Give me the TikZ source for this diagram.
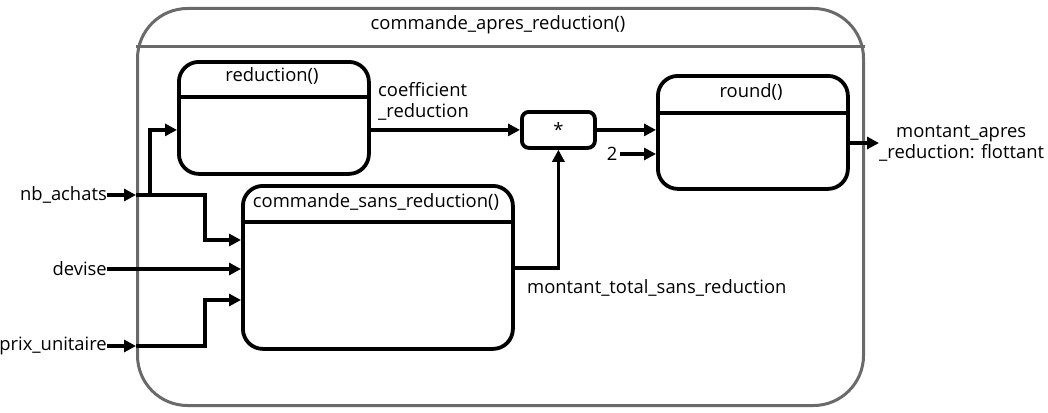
\documentclass[tikz,border=0pt]{standalone}
\usepackage{fontspec}
\setmainfont{Open Sans}
\usetikzlibrary{arrows.meta}
\definecolor{framegray}{HTML}{6A6A6A}
\begin{document}
\begin{tikzpicture}[x=1pt,y=-1pt,
 box/.style={draw=black, line width=3.8pt, rounded corners=20pt, anchor=north west, inner sep=0pt},
 outerbox/.style={draw=framegray, line width=3pt, rounded corners=50pt, anchor=north west, inner sep=0pt},
 arr/.style={line width=3.8pt, -{Triangle[length=12pt,width=12pt]}},
 ln/.style={line width=3.8pt},
 lbl/.style={font=\fontsize{18.4}{21}\selectfont, inner sep=0pt},
]
\useasboundingbox (0,0) rectangle (1048,412);
% outer
\node[outerbox, minimum width=726pt, minimum height=397pt] (outer) at (136,7) {};
\draw[line width=3pt, framegray] (outer.west |- 0,47) -- (outer.east |- 0,47);
\node[lbl] (outertitle) at (498,25) {commande\_apres\_reduction()};
% reduction
\node[box, minimum width=190pt, minimum height=112pt] (red) at (177,60) {};
\draw[ln] (red.west |- 0,97) -- (red.east |- 0,97);
\node[lbl] (redtitle) at (272,76) {reduction()};
% commande_sans_reduction
\node[box, minimum width=270pt, minimum height=163pt] (csr) at (241,184) {};
\draw[ln] (csr.west |- 0,222) -- (csr.east |- 0,222);
\node[lbl] (csrtitle) at (376,202) {commande\_sans\_reduction()};
% star
\node[box, rounded corners=7pt, minimum width=73pt, minimum height=36pt] (star) at (520,110) {};
\node[lbl] (startext) at (star.center) {*};
% round
\node[box, minimum width=190pt, minimum height=113pt] (rnd) at (656,74) {};
\draw[ln] (rnd.west |- 0,113) -- (rnd.east |- 0,113);
\node[lbl] (rndtitle) at (751,92) {round()};
% connectors
\draw[arr] (red.east |- star.west) -- (star.west);
\node[lbl, anchor=north west, align=left] (coefflbl) at (378,82) {coefficient\\\_reduction};
\draw[arr] (star.east) -- (star.east -| rnd.west);
\node[lbl] (two) at (612,154) {2};
\draw[arr] (two.east) ++(3,0) coordinate (twostart) (twostart) -- (twostart -| rnd.west);
\node[lbl, anchor=west, align=left] (out) at (879,143) {\hspace{17pt}montant\_apres\\\_reduction: flottant};
\draw[arr] (rnd.east |- out.west) -- (out.west);
\draw[arr] (csr.east |- 0,268) -| (star.south);
\node[lbl, anchor=west] (mtsr) at (527,288) {montant\_total\_sans\_reduction};
% inputs
\node[lbl, anchor=east] (nb) at (107,195) {nb\_achats};
\draw[arr] (nb.east) -- (nb.east -| outer.west);
\draw[arr] (nb.east -| outer.west) -| (205,240) -- (csr.west |- 0,240);
\draw[arr] (150,195) |- (red.west |- star.west);
\node[lbl, anchor=east] (dev) at (107,269) {devise};
\draw[arr] (dev.east) -- (dev.east -| csr.west);
\node[lbl, anchor=east] (pu) at (107,346) {prix\_unitaire};
\draw[arr] (pu.east) -- (pu.east -| outer.west);
\draw[arr] (pu.east -| outer.west) -| (205,300) -- (csr.west |- 0,300);
\end{tikzpicture}
\end{document}
